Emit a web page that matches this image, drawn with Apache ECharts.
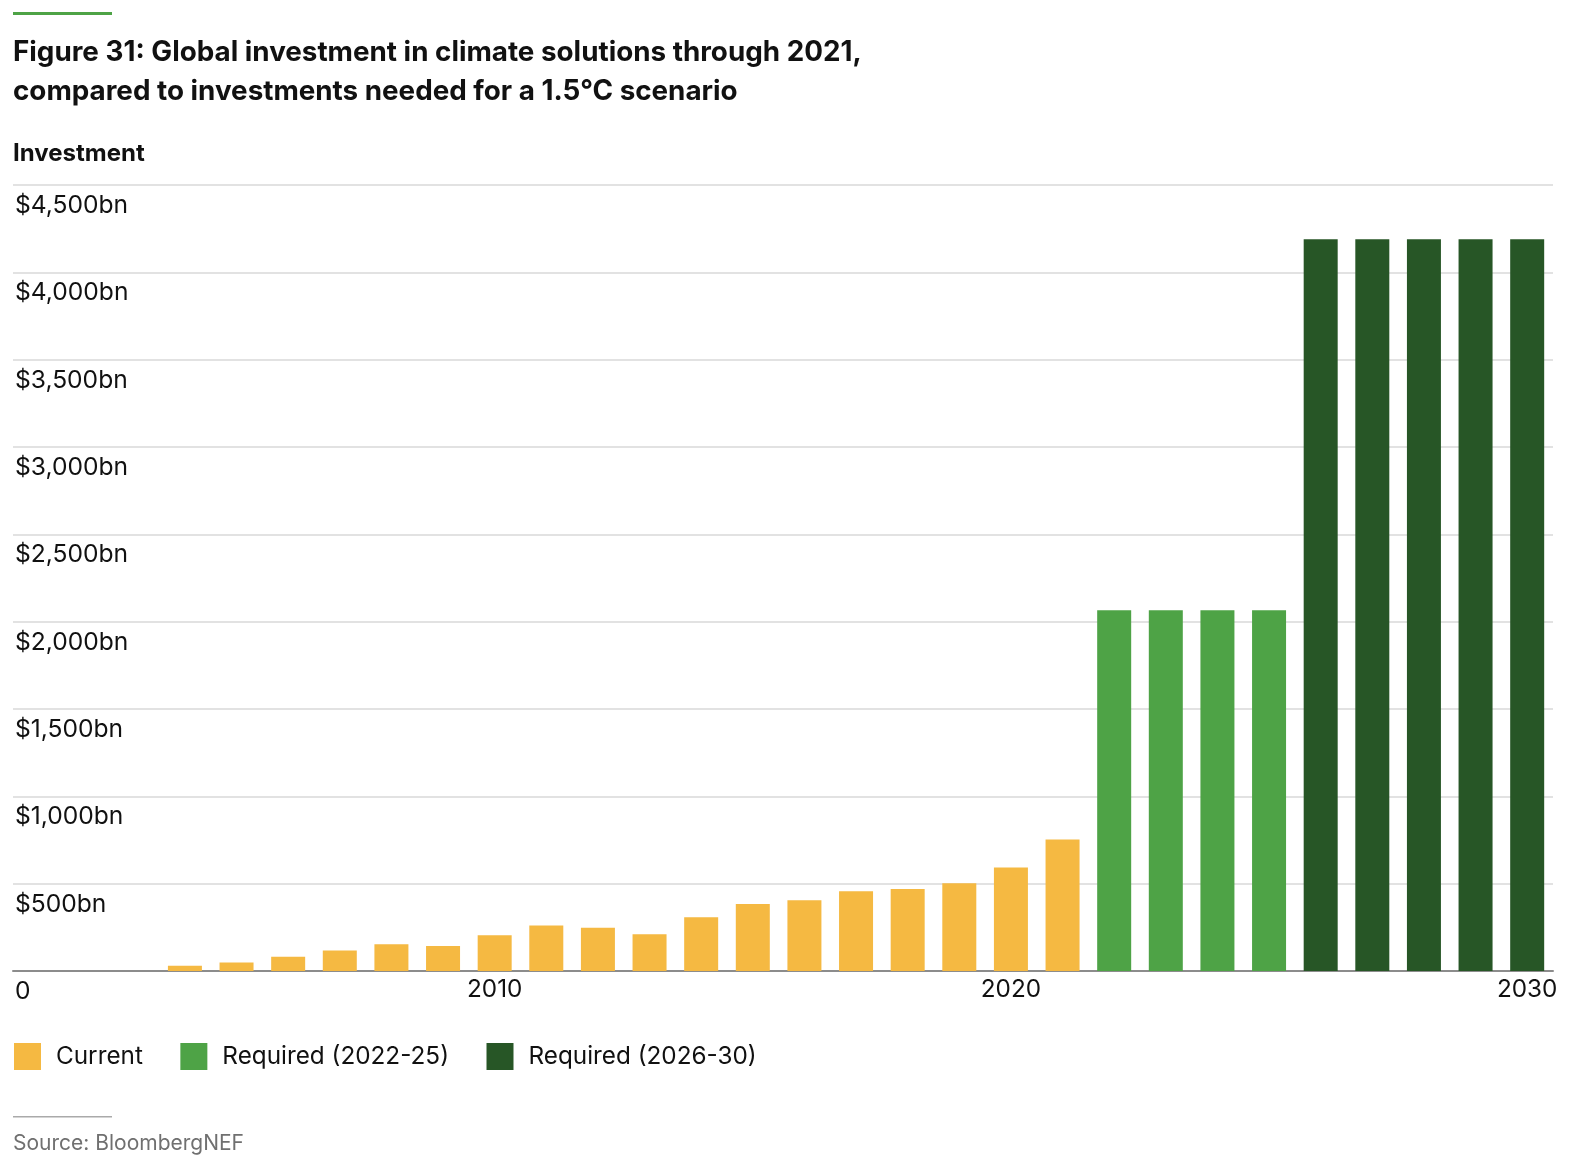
<!DOCTYPE html>
<html><head><meta charset="utf-8">
<script src="https://cdn.jsdelivr.net/npm/echarts@6/dist/echarts.min.js"></script>
<style>html,body{margin:0;padding:0;background:#fff}#c{width:1574px;height:1168px}</style>
</head><body><div id="c"></div>
<script>
const currentYears = [2004,2005,2006,2007,2008,2009,2010,2011,2012,2013,2014,2015,2016,2017,2018,2019,2020,2021];
const currentValues = [30,48,82,118,153,143,204,260,247,210,308,384,405,457,470,503,592,753];
const req1Years = [2022,2023,2024,2025];
const req1Values = [2065,2065,2065,2065];
const req2Years = [2026,2027,2028,2029,2030];
const req2Values = [4190,4190,4190,4190,4190];
const xLabelValues = [2010,2020,2030];
const seriesNames = ['Current','Required (2022-25)','Required (2026-30)'];
const colors = ['#F5B942','#4EA346','#275626'];

const FONT = 'Inter, Roboto, "Liberation Sans", sans-serif';
const pair = (xs, ys) => xs.map((x, i) => [x, ys[i]]);

const chart = echarts.init(document.getElementById('c'), null, {renderer: 'canvas'});
chart.setOption({
  backgroundColor: '#fff',
  animation: false,
  textStyle: {fontFamily: FONT},
  title: [
    {text: 'Figure 31: Global investment in climate solutions through 2021,\ncompared to investments needed for a 1.5°C scenario',
     left: 13, top: 33, padding: 0,
     textStyle: {fontFamily: FONT, fontSize: 27.8, fontWeight: 'bold', color: '#111', lineHeight: 39}},
    {text: 'Investment', left: 13, top: 142, padding: 0,
     textStyle: {fontFamily: FONT, fontSize: 24, fontWeight: 'bold', color: '#111'}},
    {text: 'Source: BloombergNEF', left: 13, top: 1133, padding: 0,
     textStyle: {fontFamily: FONT, fontSize: 21, fontWeight: 'normal', color: '#707070'}}
  ],
  graphic: [
    {type: 'rect', left: 13, top: 12, shape: {width: 99, height: 3}, style: {fill: '#4EA346'}},
    {type: 'rect', left: 13, top: 1116, shape: {width: 99, height: 1.5}, style: {fill: '#aaaaaa'}}
  ],
  legend: {
    left: 14, top: 1043, padding: 0,
    itemWidth: 27, itemHeight: 27, itemGap: 37.5,
    icon: 'rect',
    data: seriesNames,
    textStyle: {fontFamily: FONT, fontSize: 24.3, color: '#111', padding: [0,0,0,10]}
  },
  grid: {left: 13, right: 21, top: 185, bottom: 197, containLabel: false},
  xAxis: {
    type: 'value', min: 2000.67, max: 2030.5,
    splitLine: {show: false},
    axisTick: {show: false},
    axisLine: {show: true, lineStyle: {color: '#8c8c8c', width: 2}},
    axisLabel: {
      customValues: xLabelValues,
      color: '#111', fontSize: 24.3, fontFamily: FONT, margin: 7,
      formatter: v => String(v)
    }
  },
  yAxis: {
    type: 'value', min: 0, max: 4500, interval: 500,
    axisLine: {show: false}, axisTick: {show: false},
    splitLine: {lineStyle: {color: '#d9d9d9', width: 1.5}},
    axisLabel: {
      inside: true, align: 'left', verticalAlign: 'top', margin: 2,
      padding: [8,0,0,0],
      color: '#111', fontSize: 24.6, fontFamily: FONT,
      formatter: v => v === 0 ? '0' : '$' + v.toLocaleString('en-US') + 'bn'
    }
  },
  series: [
    {name: seriesNames[0], type: 'bar', stack: 'all', barWidth: 34, data: pair(currentYears, currentValues), itemStyle: {color: colors[0]}},
    {name: seriesNames[1], type: 'bar', stack: 'all', barWidth: 34, data: pair(req1Years, req1Values), itemStyle: {color: colors[1]}},
    {name: seriesNames[2], type: 'bar', stack: 'all', barWidth: 34, data: pair(req2Years, req2Values), itemStyle: {color: colors[2]}}
  ]
});
</script></body></html>
